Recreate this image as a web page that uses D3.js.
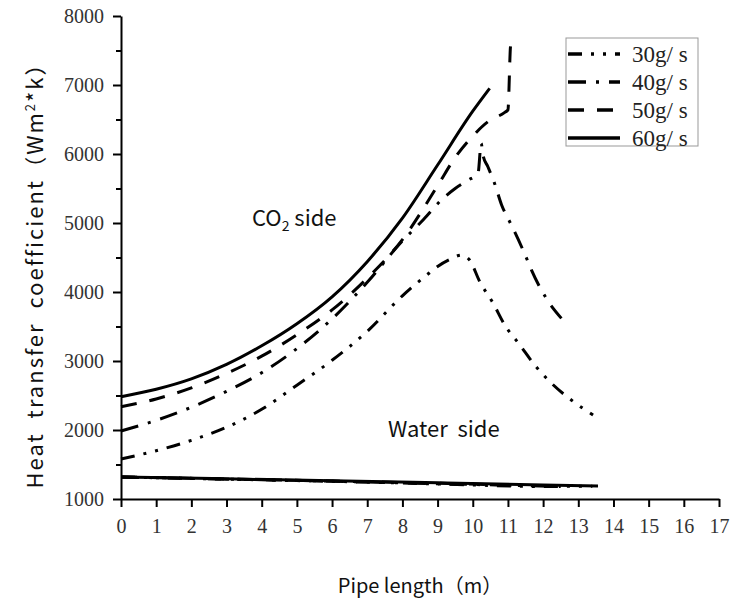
<!DOCTYPE html>
<html>
<head>
<meta charset="utf-8">
<script src="https://cdn.jsdelivr.net/npm/d3@7"></script>
<style>
  body { margin: 0; background: #fff; }
</style>
</head>
<body>
<div id="chart"></div>
<script>
// tick values
const xTickVals = [0, 1, 2, 3, 4, 5, 6, 7, 8, 9, 10, 11, 12, 13, 14, 15, 16, 17];
const yTickVals = [1000, 2000, 3000, 4000, 5000, 6000, 7000, 8000];
const yMinorVals = [1500, 2500, 3500, 4500, 5500, 6500, 7500];

const seriesNames = ["30g/ s", "40g/ s", "50g/ s", "60g/ s"];

// CO2 side
const co2X30 = [0, 1, 2, 3, 4, 5, 6, 7, 8, 8.7, 9.0, 9.35, 9.68, 9.91, 10.2, 10.58, 10.91, 11.34, 11.76, 12.24, 12.8, 13.42];
const co2Y30 = [1580, 1700, 1850, 2040, 2300, 2650, 3010, 3430, 3945, 4250, 4370, 4473, 4536, 4463, 4149, 3836, 3521, 3232, 2942, 2676, 2435, 2217];

const co2X40 = [0, 1, 2, 3, 4, 5, 6, 7, 8, 8.6, 9.1, 9.5, 9.87, 10.15, 10.24, 10.29, 10.43, 10.62, 10.82, 11.05, 11.19, 11.53, 11.67, 12.09, 12.52];
const co2Y40 = [1985, 2140, 2330, 2560, 2830, 3180, 3610, 4140, 4740, 5050, 5330, 5500, 5622, 5720, 6154, 5985, 5815, 5574, 5261, 5018, 4873, 4488, 4318, 3908, 3618];

const co2X50 = [0, 1, 2, 3, 4, 5, 6, 7, 8, 9, 9.5, 10, 10.43, 10.9, 11.0, 11.08, 11.15];
const co2Y50 = [2338, 2450, 2610, 2820, 3070, 3380, 3740, 4200, 4760, 5540, 5950, 6260, 6467, 6600, 6640, 7580, 7540];

const co2X60 = [0, 1, 2, 3, 4, 5, 6, 7, 8, 9, 10, 10.48];
const co2Y60 = [2483, 2590, 2740, 2950, 3220, 3540, 3930, 4440, 5070, 5840, 6620, 6951];

// water side
const watX30 = [0, 3, 6, 9, 12, 13.4];
const watY30 = [1318, 1288, 1256, 1218, 1182, 1186];
const watX40 = [0, 3, 6, 9, 12.5];
const watY40 = [1318, 1289, 1258, 1222, 1182];
const watX50 = [0, 3, 6, 9, 11.1];
const watY50 = [1318, 1290, 1260, 1228, 1200];
const watX60 = [0, 3, 6, 9, 12, 13.56];
const watY60 = [1319, 1292, 1264, 1235, 1204, 1188];

const zip = (xs, ys) => xs.map((v, i) => [v, ys[i]]);

const series = [
  { name: seriesNames[0], co2: zip(co2X30, co2Y30), water: zip(watX30, watY30) },
  { name: seriesNames[1], co2: zip(co2X40, co2Y40), water: zip(watX40, watY40) },
  { name: seriesNames[2], co2: zip(co2X50, co2Y50), water: zip(watX50, watY50) },
  { name: seriesNames[3], co2: zip(co2X60, co2Y60), water: zip(watX60, watY60) }
];

const dashes = {
  "30g/ s": "14,9,3,9,3,9",
  "40g/ s": "18,10,3,10",
  "50g/ s": "16,13",
  "60g/ s": null
};

const W = 732, H = 603;
const svg = d3.select("#chart").append("svg")
  .attr("width", W)
  .attr("height", H);

const x = d3.scaleLinear().domain([0, 17]).range([121, 719]);
const y = d3.scaleLinear().domain([1000, 8000]).range([499, 16]);

const serif = "'Liberation Serif', 'Times New Roman', serif";
const sans = "'Noto Sans CJK SC', 'Noto Sans', sans-serif";

// x axis
svg.append("g")
  .attr("transform", `translate(0,${y(1000)})`)
  .call(d3.axisBottom(x).tickValues(xTickVals).tickSize(8).tickSizeOuter(0).tickPadding(12))
  .attr("font-family", serif);

// y axis
svg.append("g")
  .attr("transform", `translate(${x(0)},0)`)
  .call(d3.axisLeft(y).tickValues(yTickVals).tickFormat(d3.format("d")).tickSize(8).tickSizeOuter(0).tickPadding(9))
  .attr("font-family", serif);

svg.append("g")
  .attr("transform", `translate(${x(0)},0)`)
  .call(d3.axisLeft(y).tickValues(yMinorVals).tickSize(5).tickFormat(""))
  .call(g => g.select(".domain").remove());

svg.selectAll(".domain").attr("stroke", "#000").attr("stroke-width", 2);
svg.selectAll(".tick line").attr("stroke", "#000").attr("stroke-width", 2);
svg.selectAll(".tick text")
  .attr("font-family", serif)
  .attr("font-size", 20)
  .attr("fill", "#333");

// curves
const line = d3.line()
  .x(d => x(d[0]))
  .y(d => y(d[1]))
  .curve(d3.curveMonotoneX);

series.forEach(s => {
  ["co2", "water"].forEach(k => {
    svg.append("path")
      .datum(s[k])
      .attr("fill", "none")
      .attr("stroke", "#000")
      .attr("stroke-width", 3)
      .attr("stroke-dasharray", dashes[s.name])
      .attr("d", line);
  });
});

// annotations
const co2Label = svg.append("text")
  .attr("x", 252)
  .attr("y", 226)
  .attr("font-family", sans)
  .attr("font-size", 22)
  .attr("fill", "#111");
co2Label.append("tspan").text("CO");
co2Label.append("tspan").attr("font-size", 14).attr("dy", 5).text("2");
co2Label.append("tspan").attr("dy", -5).text(" side");

svg.append("text")
  .attr("x", 388)
  .attr("y", 437)
  .attr("font-family", sans)
  .attr("font-size", 22)
  .attr("fill", "#111")
  .style("white-space", "pre")
  .text("Water  side");

// axis titles
svg.append("text")
  .attr("x", 420)
  .attr("y", 593)
  .attr("text-anchor", "middle")
  .attr("font-family", sans)
  .attr("font-size", 20)
  .attr("fill", "#111")
  .text("Pipe length（m）");

const yTitle = svg.append("text")
  .attr("transform", "translate(43,270) rotate(-90)")
  .attr("text-anchor", "middle")
  .attr("font-family", sans)
  .attr("font-size", 22)
  .attr("letter-spacing", 2)
  .attr("fill", "#111")
  .style("white-space", "pre");
yTitle.append("tspan").text("Heat  transfer  coefficient（Wm");
yTitle.append("tspan").attr("font-size", 13).attr("dy", -8).text("2");
yTitle.append("tspan").attr("dy", 8).text("*k）");

// legend
const legend = svg.append("g");
legend.append("rect")
  .attr("x", 566)
  .attr("y", 38)
  .attr("width", 132)
  .attr("height", 108)
  .attr("fill", "#fff")
  .attr("stroke", "#999")
  .attr("stroke-width", 1);

const ly = d3.scalePoint().domain(seriesNames).range([54, 138]);

seriesNames.forEach(n => {
  legend.append("line")
    .attr("x1", 568)
    .attr("x2", 620)
    .attr("y1", ly(n))
    .attr("y2", ly(n))
    .attr("stroke", "#000")
    .attr("stroke-width", 3.5)
    .attr("stroke-dasharray", dashes[n]);
  legend.append("text")
    .attr("x", 632)
    .attr("y", ly(n))
    .attr("dy", "0.35em")
    .attr("font-family", serif)
    .attr("font-size", 23)
    .attr("fill", "#222")
    .style("white-space", "pre")
    .text(n);
});
</script>
</body>
</html>
